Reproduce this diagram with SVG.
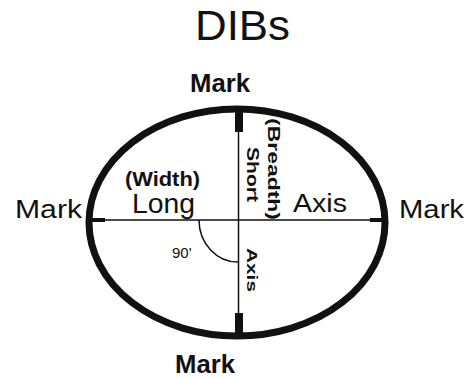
<svg xmlns="http://www.w3.org/2000/svg" width="469" height="379" viewBox="0 0 469 379">
<style>
text{font-family:"Liberation Sans",Arial,sans-serif;fill:#111;}
.mark{font-size:25px;font-weight:bold;}
.markr{font-size:25px;}
.big{font-size:28px;}
.vert{font-weight:bold;}
.thin{stroke:#111;stroke-width:1.5;fill:none;}
</style>
<rect width="469" height="379" fill="#fff"/>
<text x="242.5" y="40" font-size="42" text-anchor="middle" textLength="95" lengthAdjust="spacingAndGlyphs">DIBs</text>
<g id="ellipse">
<ellipse cx="237" cy="222.5" rx="148" ry="113.5" fill="none" stroke="#111" stroke-width="7"/>
</g>
<g id="connectors">
<line class="thin" x1="89" y1="220" x2="385" y2="220"/>
<line class="thin" x1="238.5" y1="110" x2="238.5" y2="336"/>
<path class="thin" d="M199,220 A39,42 0 0,0 238.5,262"/>
<rect x="235" y="111" width="8" height="21" fill="#111"/>
<rect x="235" y="313" width="8" height="22" fill="#111"/>
<rect x="90" y="218" width="15" height="4" fill="#111"/>
<rect x="370" y="218" width="12" height="4" fill="#111"/>
</g>
<g id="mark-top"><text class="mark" x="190" y="92" textLength="60" lengthAdjust="spacingAndGlyphs">Mark</text></g>
<g id="mark-left"><text class="markr" x="15" y="218" textLength="67" lengthAdjust="spacingAndGlyphs">Mark</text></g>
<g id="mark-right"><text class="markr" x="399" y="218" textLength="65" lengthAdjust="spacingAndGlyphs">Mark</text></g>
<g id="mark-bottom"><text class="mark" x="175" y="373" textLength="60" lengthAdjust="spacingAndGlyphs">Mark</text></g>
<g id="long-axis">
<text x="125" y="186" font-size="20" font-weight="bold" textLength="75" lengthAdjust="spacingAndGlyphs">(Width)</text>
<text class="big" x="132" y="213" textLength="63" lengthAdjust="spacingAndGlyphs">Long</text>
<text x="293" y="212" font-size="25" textLength="54" lengthAdjust="spacingAndGlyphs">Axis</text>
</g>
<g id="short-axis">
<text class="vert" transform="translate(268,118) rotate(90)" font-size="16" textLength="102" lengthAdjust="spacingAndGlyphs">(Breadth)</text>
<text class="vert" transform="translate(247,147) rotate(90)" font-size="17" textLength="55" lengthAdjust="spacingAndGlyphs">Short</text>
<text class="vert" transform="translate(247,248) rotate(90)" font-size="14" textLength="44" lengthAdjust="spacingAndGlyphs">Axis</text>
</g>
<g id="angle"><text x="172" y="258" font-size="15">90'</text></g>
</svg>
